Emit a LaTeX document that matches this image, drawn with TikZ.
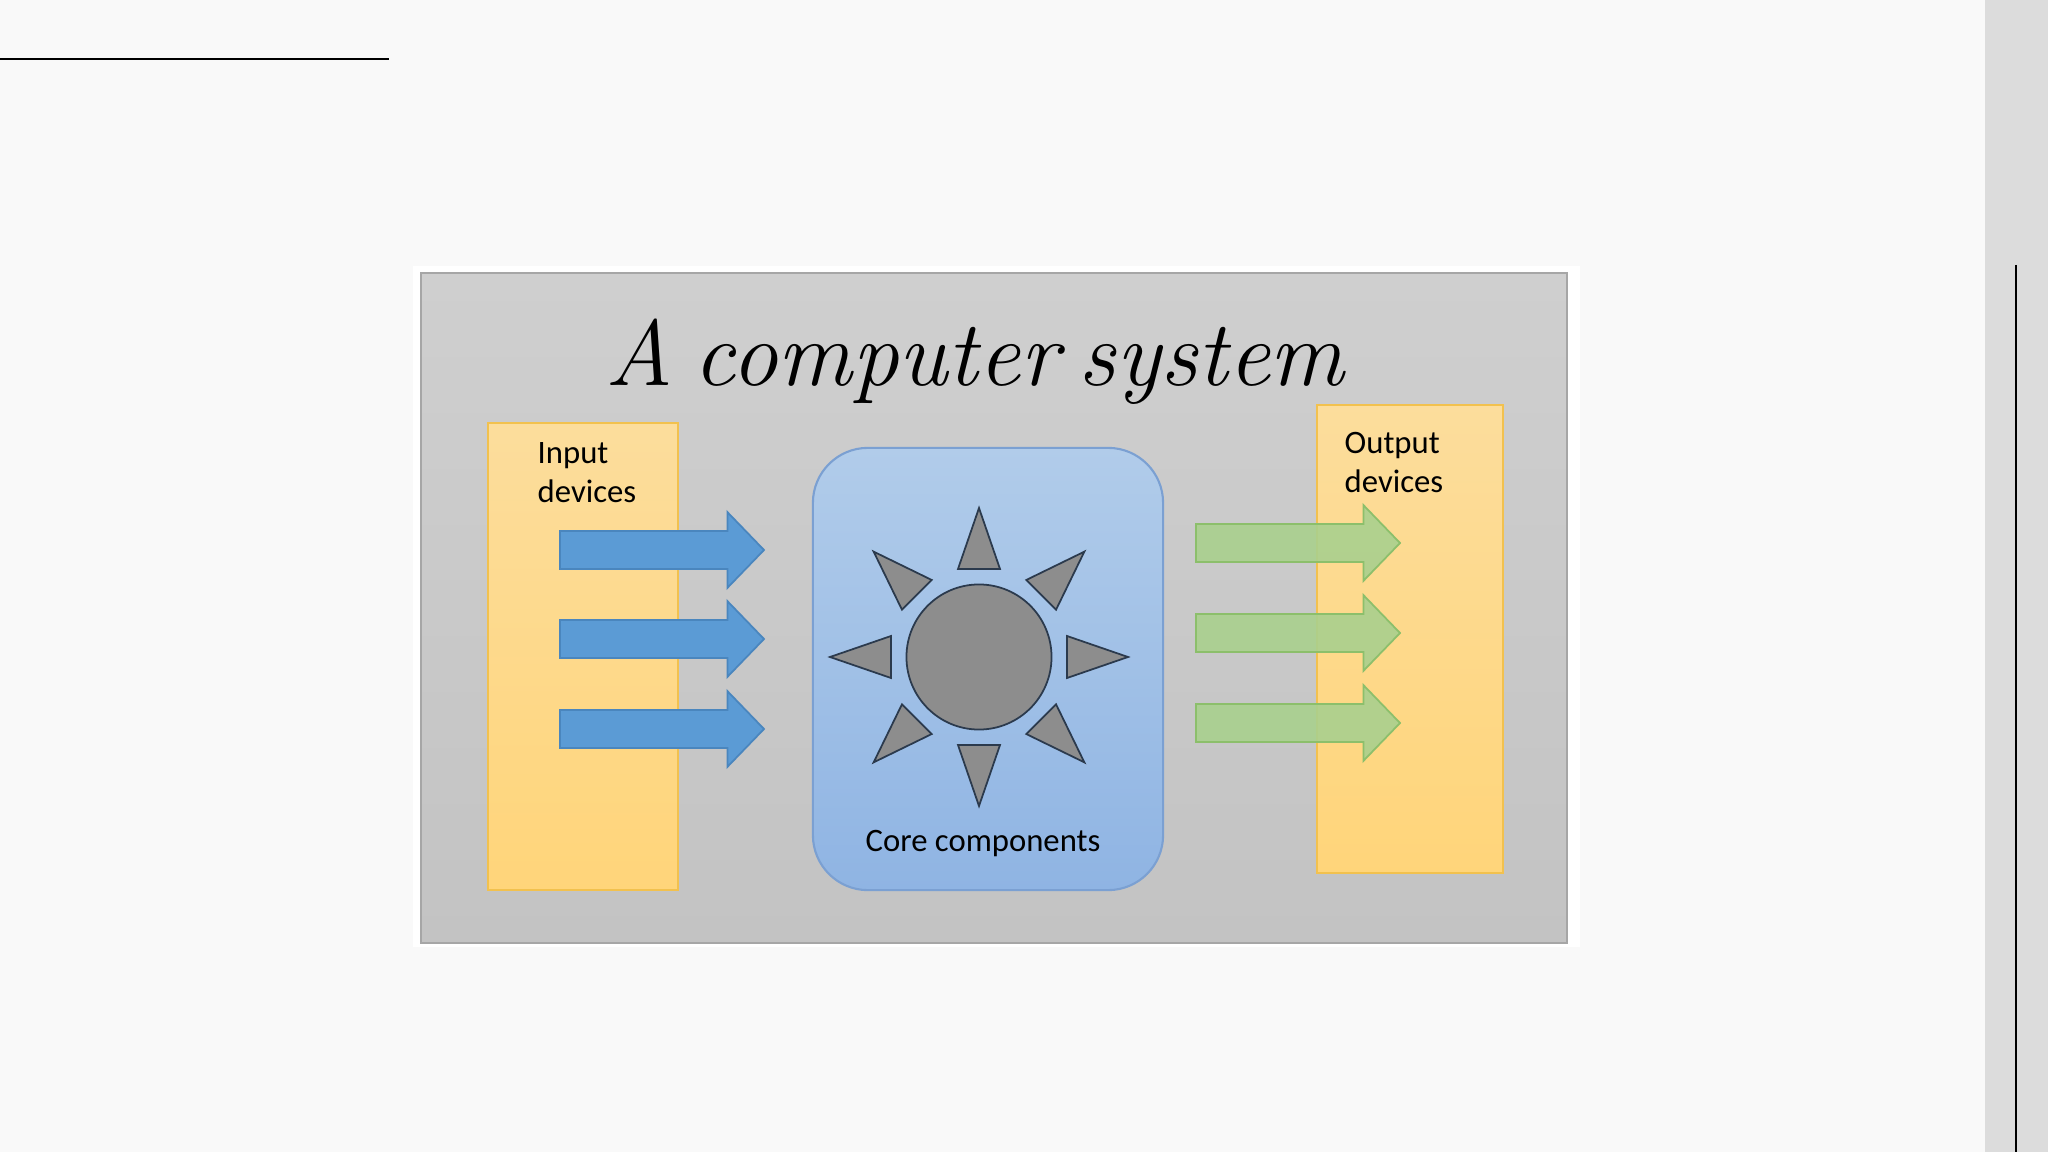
\documentclass[tikz,border=0pt]{standalone}
\usepackage{fontspec}
\newfontfamily\labelfont{Carlito}
\usetikzlibrary{shapes.arrows}

\definecolor{pagebg}{HTML}{F9F9F9}
\definecolor{sidebar}{HTML}{DCDCDC}
\definecolor{paneltop}{HTML}{CFCFCF}
\definecolor{panelbot}{HTML}{C3C3C3}
\definecolor{panelline}{HTML}{A6A6A6}
\definecolor{devtop}{HTML}{FCDD9C}
\definecolor{devbot}{HTML}{FFD57A}
\definecolor{devline}{HTML}{F2C14E}
\definecolor{coretop}{HTML}{B1CCEA}
\definecolor{corebot}{HTML}{8FB4E3}
\definecolor{coreline}{HTML}{7BA0D2}
\definecolor{inblue}{HTML}{5B9BD5}
\definecolor{inblueline}{HTML}{4A86BE}
\definecolor{outgreen}{HTML}{A9D08E}
\definecolor{outgreenline}{HTML}{8CBF6B}
\definecolor{sungray}{HTML}{8D8D8D}
\definecolor{sunline}{HTML}{2B3A4D}

\begin{document}
\begin{tikzpicture}[x=0.01cm, y=-0.01cm,
    devbox/.style={draw=devline, top color=devtop, bottom color=devbot, line width=0.6pt, inner sep=0},
    corebox/.style={draw=coreline, top color=coretop, bottom color=corebot, line width=0.6pt, rounded corners=0.55cm, inner sep=0},
    flow/.style={single arrow, inner xsep=0, inner ysep=0.18cm, minimum height=2.04cm, minimum width=0.74cm,
        single arrow head extend=0.19cm, single arrow tip angle=92, line width=0.5pt, anchor=tail},
    inflow/.style={flow, draw=inblueline, fill=inblue},
    outflow/.style={flow, draw=outgreenline, fill=outgreen, fill opacity=0.9},
    ray/.style={draw=sunline, fill=sungray, line width=0.5pt},
    label/.style={font=\labelfont\fontsize{9.3}{11}\selectfont, inner sep=0, align=left}]

    % Page
    \fill[pagebg] (0,0) rectangle (2048,1152);
    \useasboundingbox (0,0) rectangle (2048,1152);
    \fill[sidebar] (1985,0) rectangle (2048,1152);
    \draw[line width=0.02cm] (0,59.5) -- (389,59.5);
    \draw[line width=0.02cm] (2015.5,265) -- (2015.5,1152);

    % Slide
    \fill[white] (413,266) rectangle (1580,947);
    \draw[panelline, top color=paneltop, bottom color=panelbot, line width=0.6pt] (421,273) rectangle (1567,943);
    \node[anchor=base, font=\itshape\fontsize{26.5}{32}\selectfont] (title) at (975,386) {\spaceskip=0.22em A computer system};

    % Nodes
    \node[devbox, minimum width=1.9cm, minimum height=4.67cm] (input) at (583,656.5) {};
    \node[devbox, minimum width=1.86cm, minimum height=4.68cm] (output) at (1410,639) {};
    \node[corebox, minimum width=3.5cm, minimum height=4.42cm] (core) at (988,669) {};
    \node[label, anchor=north west] (inlabel) at (537,442) {Input\\devices};
    \node[label, anchor=north west] (outlabel) at (1344,432) {Output\\devices};
    \node[label, anchor=base] (corelabel) at (983,851) {Core components};

    % Sun
    \node[circle, ray, minimum size=1.45cm, inner sep=0] (sun) at (979,657) {};
    \draw[ray, shift={(sun.center)}, rotate=0] (88,-21) -- (88,21) -- (149,0) -- cycle;
    \draw[ray, shift={(sun.center)}, rotate=45] (88,-21) -- (88,21) -- (149,0) -- cycle;
    \draw[ray, shift={(sun.center)}, rotate=90] (88,-21) -- (88,21) -- (149,0) -- cycle;
    \draw[ray, shift={(sun.center)}, rotate=135] (88,-21) -- (88,21) -- (149,0) -- cycle;
    \draw[ray, shift={(sun.center)}, rotate=180] (88,-21) -- (88,21) -- (149,0) -- cycle;
    \draw[ray, shift={(sun.center)}, rotate=225] (88,-21) -- (88,21) -- (149,0) -- cycle;
    \draw[ray, shift={(sun.center)}, rotate=270] (88,-21) -- (88,21) -- (149,0) -- cycle;
    \draw[ray, shift={(sun.center)}, rotate=315] (88,-21) -- (88,21) -- (149,0) -- cycle;

    % Arrows
    \node[inflow] (in1) at (559,550) {};
    \node[inflow] (in2) at (559,639) {};
    \node[inflow] (in3) at (559,729) {};
    \node[outflow] (out1) at (1195,543) {};
    \node[outflow] (out2) at (1195,633) {};
    \node[outflow] (out3) at (1195,723) {};
\end{tikzpicture}
\end{document}
